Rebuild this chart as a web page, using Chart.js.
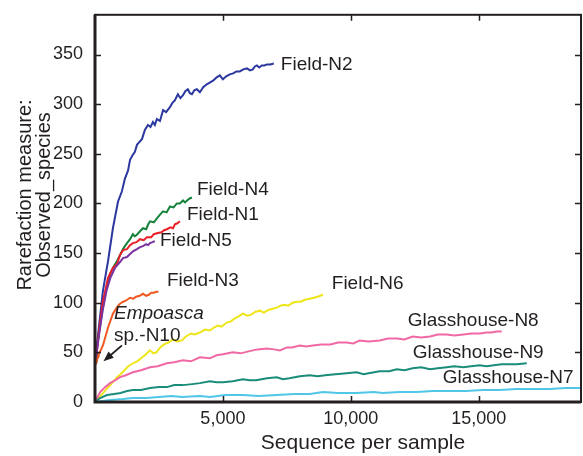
<!DOCTYPE html>
<html>
<head>
<meta charset="utf-8">
<script src="https://cdn.jsdelivr.net/npm/chart.js@4.4.1/dist/chart.umd.min.js"></script>
<style>
  html, body { margin: 0; padding: 0; background: #fff; }
  #wrap { width: 583px; height: 456px; }
</style>
</head>
<body>
<div id="wrap"><canvas id="chart" width="583" height="456"></canvas></div>
<script>
// rarefaction curves (x = sequences, y = observed species)
const n2X = [20, 150, 310, 510, 700, 900, 1050, 1170, 1290, 1370, 1480, 1560, 1640, 1740, 1840, 1950, 2070, 2170, 2265, 2340, 2420, 2540, 2660, 2780, 2930, 3020, 3125, 3240, 3340, 3440, 3530, 3630, 3710, 3790, 3880, 3980, 4100, 4230, 4370, 4500, 4630, 4760, 4880, 5000, 5130, 5270, 5400, 5530, 5660, 5800, 5940, 6060, 6170, 6250, 6330, 6420, 6520, 6620, 6720, 6850, 6990];
const n2Y = [45, 75, 112, 142, 175, 202, 212, 225, 233, 244, 249, 252, 259, 262, 265, 274, 279, 277, 282, 279, 285, 283, 294, 292, 297, 301, 304, 310, 306, 309, 313, 315, 311, 310, 314, 315, 312, 317, 320, 322, 324, 327, 329, 325, 328, 330, 331, 333, 333, 335, 336, 334, 335, 338, 339, 337, 339, 339, 340, 340, 341];

const n4X = [30, 150, 300, 450, 586, 720, 860, 980, 1094, 1170, 1250, 1370, 1480, 1550, 1620, 1760, 1875, 2000, 2080, 2150, 2300, 2420, 2550, 2660, 2800, 2930, 3070, 3200, 3320, 3440, 3520, 3600, 3700, 3790];
const n4Y = [44, 68, 95, 115, 129, 136, 142, 148, 154, 157, 160, 164, 169, 167, 168, 172, 175, 174, 179, 182, 181, 185, 189, 192, 191, 197, 196, 200, 200, 203, 201, 203, 205, 206];

const n1X = [30, 150, 300, 510, 700, 860, 976, 1100, 1250, 1370, 1480, 1620, 1760, 1900, 2030, 2200, 2300, 2420, 2600, 2700, 2810, 2950, 3050, 3125, 3220, 3320];
const n1Y = [42, 70, 100, 125, 135, 139, 148, 153, 154, 158, 160, 161, 164, 163, 166, 166, 169, 170, 171, 173, 174, 176, 175, 179, 180, 182];

const n5X = [30, 150, 300, 450, 600, 780, 976, 1094, 1250, 1370, 1500, 1640, 1760, 1875, 2000, 2080, 2150, 2250, 2340];
const n5Y = [42, 66, 92, 112, 125, 135, 141, 145, 146, 149, 152, 154, 156, 157, 159, 158, 160, 161, 162];

const n3X = [20, 150, 310, 510, 700, 850, 976, 1100, 1200, 1370, 1500, 1600, 1750, 1875, 2000, 2100, 2200, 2300, 2400, 2480];
const n3Y = [38, 48, 57, 75, 89, 95, 99, 101, 102, 105, 104, 106, 107, 109, 107, 108, 110, 110, 111, 111];

const n6X = [0, 150, 310, 450, 600, 730, 860, 1000, 1150, 1300, 1480, 1650, 1800, 1950, 2150, 2280, 2400, 2550, 2700, 2880, 3050, 3200, 3400, 3550, 3750, 3900, 4100, 4300, 4490, 4650, 4800, 4950, 5150, 5300, 5450, 5600, 5780, 5950, 6100, 6280, 6450, 6600, 6800, 6950, 7110, 7250, 7400, 7550, 7730, 7900, 8050, 8200, 8400, 8550, 8700, 8910];
const n6Y = [0, 4, 9, 13, 17, 21, 25, 28, 32, 36, 39, 41, 44, 47, 52, 49, 50, 55, 58, 60, 63, 61, 62, 66, 69, 68, 70, 73, 72, 75, 77, 76, 80, 81, 84, 86, 89, 87, 88, 91, 92, 90, 93, 94, 95, 97, 98, 97, 100, 101, 101, 103, 104, 105, 106, 108];

const n8X = [0, 200, 400, 586, 800, 976, 1200, 1480, 1800, 2150, 2450, 2810, 3100, 3440, 3750, 4100, 4490, 4750, 5000, 5390, 5700, 6000, 6350, 6720, 7000, 7230, 7500, 7700, 8010, 8250, 8520, 8850, 9200, 9500, 9840, 10100, 10350, 10700, 11130, 11450, 11800, 12100, 12420, 12750, 13100, 13400, 13750, 14050, 14400, 14700, 15040, 15300, 15500, 15700, 15900];
const n8Y = [0, 10, 15, 19, 22, 25, 27, 30, 32, 35, 36, 39, 40, 42, 41, 45, 44, 47, 48, 50, 49, 51, 53, 54, 53, 52, 55, 55, 57, 56, 57, 58, 58, 60, 60, 59, 62, 61, 62, 64, 64, 63, 66, 65, 66, 68, 68, 67, 68, 69, 69, 70, 70, 71, 71];

const n9X = [0, 200, 470, 750, 1000, 1250, 1480, 1800, 2150, 2500, 2810, 3100, 3440, 3800, 4100, 4490, 4750, 5000, 5390, 5780, 6050, 6300, 6720, 7110, 7350, 7600, 8010, 8400, 8700, 9000, 9400, 9840, 10230, 10500, 10700, 11130, 11500, 11800, 12100, 12420, 12750, 13100, 13400, 13750, 14050, 14400, 14700, 15040, 15300, 15600, 15900, 16200, 16500, 16880];
const n9Y = [0, 4, 7, 8, 9, 11, 12, 12, 14, 15, 15, 17, 17, 18, 19, 21, 20, 20, 21, 23, 22, 22, 24, 25, 23, 24, 26, 27, 26, 27, 28, 29, 30, 28, 29, 31, 31, 33, 32, 34, 35, 33, 34, 35, 36, 35, 36, 37, 36, 37, 38, 38, 38, 39];

const n7X = [0, 600, 1100, 1480, 2000, 2500, 3000, 3400, 4100, 4490, 5100, 5780, 6400, 7110, 7800, 8400, 8910, 9500, 10230, 10900, 11250, 11900, 12580, 13200, 13870, 14500, 15160, 15800, 16480, 17100, 17770, 18400, 19000];
const n7Y = [0, 2, 3, 4, 4, 5, 6, 5, 6, 5, 7, 7, 6, 7, 8, 8, 10, 9, 9, 10, 9, 10, 10, 11, 11, 11, 12, 12, 13, 13, 13, 14, 14];

const n10X = [20, 50, 80, 110];
const n10Y = [38, 42, 46, 50];

const xTicks = [5000, 10000, 15000];
const yTicks = [0, 50, 100, 150, 200, 250, 300, 350];

// curve labels, anchored in data units (left edge, vertical middle)
const labels = [
  { text: 'Field-N2', x: 7265, y: 340 },
  { text: 'Field-N4', x: 3984, y: 214 },
  { text: 'Field-N1', x: 3594, y: 189 },
  { text: 'Field-N5', x: 2539, y: 162 },
  { text: 'Field-N3', x: 2812, y: 122 },
  { text: 'Empoasca', x: 742, y: 89, italic: true },
  { text: 'sp.-N10', x: 742, y: 67 },
  { text: 'Field-N6', x: 9257, y: 119 },
  { text: 'Glasshouse-N8', x: 12226, y: 82 },
  { text: 'Glasshouse-N9', x: 12421, y: 50 },
  { text: 'Glasshouse-N7', x: 13593, y: 24 }
];
const arrowFrom = { x: 1055, y: 57 };
const arrowTo = { x: 330, y: 41 };

const FONT = '"Liberation Sans", Arial, sans-serif';
const INK = '#231f20';

function pts(xs, ys) {
  return xs.map((x, i) => ({ x: x, y: ys[i] }));
}

function line(label, xs, ys, color, width) {
  return {
    label: label,
    data: pts(xs, ys),
    borderColor: color,
    backgroundColor: color,
    borderWidth: width || 2,
    pointRadius: 0,
    tension: 0,
    fill: false
  };
}

const decor = {
  id: 'decor',
  afterDraw(chart) {
    const { ctx, chartArea: a, scales: { x, y } } = chart;
    ctx.save();

    // frame
    ctx.strokeStyle = INK;
    ctx.lineWidth = 2;
    ctx.strokeRect(a.left, a.top, a.right - a.left, a.bottom - a.top);
    ctx.lineWidth = 3;
    ctx.beginPath();
    ctx.moveTo(a.left, a.top);
    ctx.lineTo(a.left, a.bottom);
    ctx.lineTo(a.right, a.bottom);
    ctx.stroke();

    // inward ticks on all four sides
    ctx.lineWidth = 1.5;
    ctx.beginPath();
    xTicks.forEach(v => {
      const px = Math.round(x.getPixelForValue(v)) + 0.5;
      ctx.moveTo(px, a.bottom); ctx.lineTo(px, a.bottom - 6);
      ctx.moveTo(px, a.top); ctx.lineTo(px, a.top + 6);
    });
    yTicks.forEach(v => {
      if (v === 0) return;
      const py = Math.round(y.getPixelForValue(v)) + 0.5;
      ctx.moveTo(a.left, py); ctx.lineTo(a.left + 6, py);
      ctx.moveTo(a.right, py); ctx.lineTo(a.right - 6, py);
    });
    ctx.stroke();

    // curve labels
    ctx.fillStyle = INK;
    ctx.textBaseline = 'middle';
    ctx.textAlign = 'left';
    labels.forEach(l => {
      ctx.font = (l.italic ? 'italic ' : '') + '19px ' + FONT;
      ctx.fillText(l.text, x.getPixelForValue(l.x), y.getPixelForValue(l.y));
    });

    // arrow to Empoasca sp.-N10
    const x0 = x.getPixelForValue(arrowFrom.x), y0 = y.getPixelForValue(arrowFrom.y);
    const x1 = x.getPixelForValue(arrowTo.x), y1 = y.getPixelForValue(arrowTo.y);
    const ang = Math.atan2(y1 - y0, x1 - x0);
    ctx.lineWidth = 1.8;
    ctx.beginPath();
    ctx.moveTo(x0, y0);
    ctx.lineTo(x1 - 7 * Math.cos(ang), y1 - 7 * Math.sin(ang));
    ctx.stroke();
    ctx.beginPath();
    ctx.moveTo(x1, y1);
    ctx.lineTo(x1 - 11 * Math.cos(ang - 0.38), y1 - 11 * Math.sin(ang - 0.38));
    ctx.lineTo(x1 - 11 * Math.cos(ang + 0.38), y1 - 11 * Math.sin(ang + 0.38));
    ctx.closePath();
    ctx.fill();

    // axis titles
    ctx.font = '21px ' + FONT;
    ctx.textAlign = 'center';
    ctx.fillText('Sequence per sample', (a.left + a.right) / 2 + 25, 443);
    ctx.save();
    ctx.translate(25, 195);
    ctx.rotate(-Math.PI / 2);
    ctx.font = '20px ' + FONT;
    ctx.fillText('Rarefaction measure:', 0, 0);
    ctx.fillText('Observed_species', 0, 19);
    ctx.restore();

    ctx.restore();
  }
};

new Chart(document.getElementById('chart'), {
  type: 'line',
  data: {
    datasets: [
      line('Glasshouse-N7', n7X, n7Y, 'rgb(80, 198, 232)'),
      line('Glasshouse-N9', n9X, n9Y, 'rgb(26, 140, 122)'),
      line('Glasshouse-N8', n8X, n8Y, 'rgb(240, 104, 164)'),
      line('Field-N6', n6X, n6Y, 'rgb(238, 230, 24)'),
      line('Field-N3', n3X, n3Y, 'rgb(240, 88, 34)'),
      line('Field-N5', n5X, n5Y, 'rgb(122, 50, 160)'),
      line('Field-N1', n1X, n1Y, 'rgb(236, 30, 40)'),
      line('Field-N4', n4X, n4Y, 'rgb(22, 130, 58)'),
      line('Field-N2', n2X, n2Y, 'rgb(44, 56, 160)'),
      line('Empoasca sp.-N10', n10X, n10Y, 'rgb(110, 70, 30)', 3)
    ]
  },
  options: {
    responsive: false,
    animation: false,
    layout: { padding: { top: 11, right: 2, left: 0, bottom: 0 } },
    plugins: {
      legend: { display: false },
      tooltip: { enabled: false }
    },
    scales: {
      x: {
        type: 'linear',
        min: 0,
        max: 19000,
        grid: { display: false },
        border: { display: false },
        afterBuildTicks: s => { s.ticks = xTicks.map(v => ({ value: v })); },
        afterFit: s => { s.height = 54; },
        ticks: {
          color: INK,
          padding: -2,
          maxRotation: 0,
          font: { family: FONT, size: 18 },
          callback: v => v.toLocaleString('en-US')
        }
      },
      y: {
        min: 0,
        max: 390,
        grid: { display: false },
        border: { display: false },
        afterBuildTicks: s => { s.ticks = yTicks.map(v => ({ value: v })); },
        afterFit: s => { s.width = 95; },
        ticks: {
          color: INK,
          padding: 4,
          font: { family: FONT, size: 18 }
        }
      }
    }
  },
  plugins: [decor]
});
</script>
</body>
</html>
